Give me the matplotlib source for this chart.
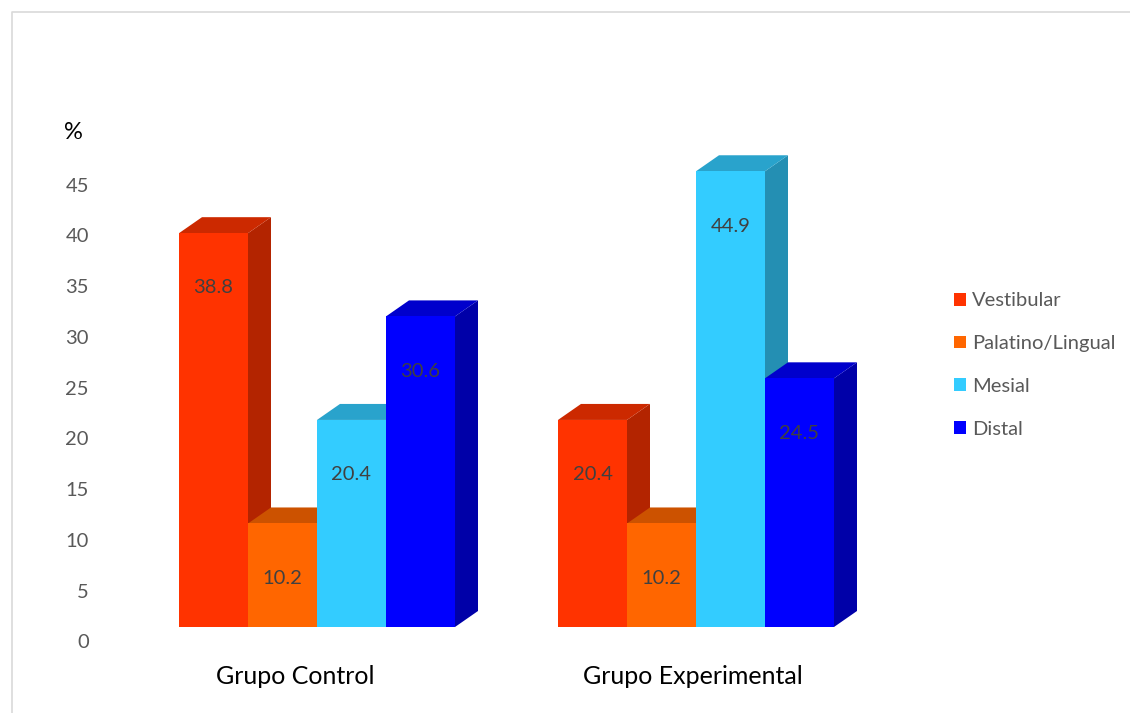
import matplotlib.pyplot as plt
from matplotlib.patches import Polygon, Patch
from matplotlib.lines import Line2D

plt.rcParams['font.family'] = ['Lato', 'DejaVu Sans']

groups = ['Grupo Control', 'Grupo Experimental']
series = ['Vestibular', 'Palatino/Lingual', 'Mesial', 'Distal']
values = {
    'Vestibular': [38.8, 20.4],
    'Palatino/Lingual': [10.2, 10.2],
    'Mesial': [20.4, 44.9],
    'Distal': [30.6, 24.5],
}
yticks = [0, 5, 10, 15, 20, 25, 30, 35, 40, 45]

# front / side / top shades for the fake 3D look
front = ['#FF3300', '#FF6600', '#33CCFF', '#0000FF']
side = ['#B32400', '#B34700', '#248FB3', '#0000A8']
top = ['#CC2900', '#CC5200', '#29A3CC', '#0000CC']

W, H = 1130, 713
fig = plt.figure(figsize=(W / 100, H / 100), dpi=100)

# axes: x in pixels, y in percent (10.15 px per unit, zero at px row 627)
ppu = 10.15
ylo, yhi = -2, 50
ax = fig.add_axes([0, (H - (627 - ylo * ppu)) / H, 1, (yhi - ylo) * ppu / H])
ax.set_xlim(0, W)
ax.set_ylim(ylo, yhi)
ax.axis('off')

group_x = [317, 696]
bar_w = 69
dx, dy = 23, 16 / ppu
floor_shift = 1.57  # tick labels sit on the front of the floor

for gi, gx in enumerate(group_x):
    left0 = gx - 2 * bar_w
    for si, name in enumerate(series):
        v = values[name][gi]
        x0 = left0 + si * bar_w
        x1 = x0 + bar_w
        # side face first, then top, then front
        ax.add_patch(Polygon([(x1, 0), (x1 + dx, dy), (x1 + dx, v + dy), (x1, v)],
                             closed=True, fc=side[si], ec='none', zorder=2 + si * 0.1))
        ax.add_patch(Polygon([(x0, v), (x0 + dx, v + dy), (x1 + dx, v + dy), (x1, v)],
                             closed=True, fc=top[si], ec='none', zorder=2 + si * 0.1))
        ax.bar(x0, v, width=bar_w, align='edge', color=front[si], zorder=3 + si * 0.1)
        ax.text(x0 + bar_w / 2, v - 5.4, f'{v:.1f}', ha='center', va='center',
                fontsize=14.5, color='#404040', zorder=10)

for t in yticks:
    ax.text(89, t - floor_shift, str(t), ha='right', va='center',
            fontsize=14.5, color='#595959')
ax.text(73, 48.7, '%', ha='center', va='center', fontsize=17, color='black')

for gx, g in zip([295, 693], groups):
    ax.text(gx, -4.9, g, ha='center', va='center', fontsize=18, color='black')

handles = [Patch(facecolor=c, edgecolor='none') for c in front]
fig.legend(handles, series, loc='center left', bbox_to_anchor=(954 / W, (H - 365) / H),
           frameon=False, fontsize=14.5, labelcolor='#595959', handlelength=0.6,
           handleheight=0.6, handletextpad=0.3, labelspacing=1.28,
           borderpad=0, borderaxespad=0)

# outer chart border (light gray)
fig.add_artist(Line2D([12 / W, 12 / W, 1], [0, 1 - 12 / H, 1 - 12 / H],
                      color='#D9D9D9', lw=1.2, transform=fig.transFigure))

fig.savefig('out.png', dpi=100)
